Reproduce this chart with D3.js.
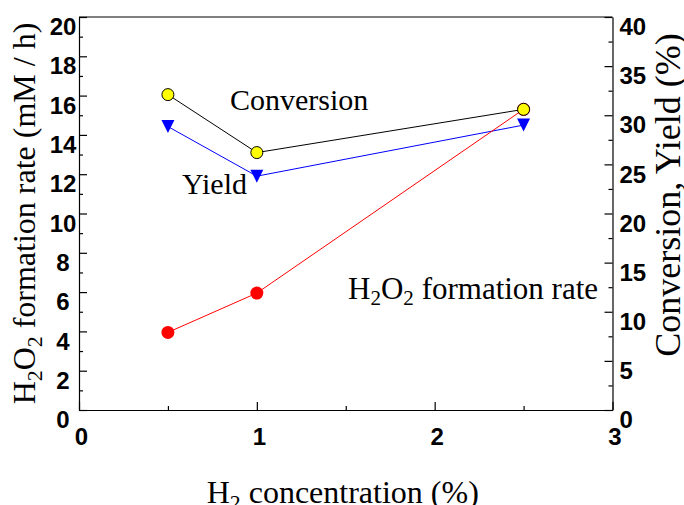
<!DOCTYPE html>
<html>
<head>
<meta charset="utf-8">
<script src="https://cdn.jsdelivr.net/npm/d3@7"></script>
<style>
  body { margin: 0; background: #fff; }
  svg { display: block; }
  .tick text { font-family: "Liberation Sans", Arial, sans-serif; font-weight: bold; font-size: 24px; fill: #000; }
  .tick line, .domain { stroke: #000; stroke-width: 1.2; }
  .serif { font-family: "Liberation Serif", "Times New Roman", serif; font-size: 30px; fill: #000; }
</style>
</head>
<body>
<div id="chart"></div>
<script>
// H2 concentration (%)
const h2Conc = [0.5, 1, 2.5];
// left axis: H2O2 formation rate (mM / h)
const h2o2Rate = [3.95, 5.95, 15.3];
// right axis: conversion and yield (%)
const conversion = [32.1, 26.2, 30.6];
const yieldPct = [28.85, 23.8, 29.0];

const xTicks = [0, 1, 2, 3];
const xMinor = [0.5, 1.5, 2.5];
const leftTicks = [0, 2, 4, 6, 8, 10, 12, 14, 16, 18, 20];
const leftMinor = [1, 3, 5, 7, 9, 11, 13, 15, 17, 19];
const rightTicks = [0, 5, 10, 15, 20, 25, 30, 35, 40];
const rightMinor = [2.5, 7.5, 12.5, 17.5, 22.5, 27.5, 32.5, 37.5];

const W = 684, H = 505;
const box = {left: 79, right: 612.5, top: 17, bottom: 410};

const svg = d3.select("#chart").append("svg")
  .attr("width", W)
  .attr("height", H);

const x = d3.scaleLinear().domain([0, 3]).range([box.left, box.right]);
const yL = d3.scaleLinear().domain([0, 20]).range([box.bottom, box.top]);
const yR = d3.scaleLinear().domain([0, 40]).range([box.bottom, box.top]);

// frame top line
svg.append("line")
  .attr("x1", box.left).attr("x2", box.right)
  .attr("y1", box.top).attr("y2", box.top)
  .attr("stroke", "#000").attr("stroke-width", 1.2);

// bottom axis
const gx = svg.append("g")
  .attr("transform", `translate(0,${box.bottom})`)
  .call(d3.axisBottom(x).tickValues(xTicks).tickFormat(d3.format("d")).tickSize(-8).tickSizeOuter(0));
gx.selectAll(".tick text").attr("y", 18).attr("dx", 2);
svg.append("g")
  .attr("transform", `translate(0,${box.bottom})`)
  .call(d3.axisBottom(x).tickValues(xMinor).tickFormat("").tickSize(-4).tickSizeOuter(0))
  .select(".domain").remove();

// left axis
const gl = svg.append("g")
  .attr("transform", `translate(${box.left},0)`)
  .call(d3.axisLeft(yL).tickValues(leftTicks).tickFormat(d3.format("d")).tickSize(-8).tickSizeOuter(0));
gl.selectAll(".tick text").attr("x", -16).attr("y", 10).attr("text-anchor", "middle");
svg.append("g")
  .attr("transform", `translate(${box.left},0)`)
  .call(d3.axisLeft(yL).tickValues(leftMinor).tickFormat("").tickSize(-4).tickSizeOuter(0))
  .select(".domain").remove();

// right axis
const gr = svg.append("g")
  .attr("transform", `translate(${box.right},0)`)
  .call(d3.axisRight(yR).tickValues(rightTicks).tickFormat(d3.format("d")).tickSize(-8).tickSizeOuter(0));
gr.selectAll(".tick text").attr("x", 7).attr("y", 10).attr("text-anchor", "start");
svg.append("g")
  .attr("transform", `translate(${box.right},0)`)
  .call(d3.axisRight(yR).tickValues(rightMinor).tickFormat("").tickSize(-4).tickSizeOuter(0))
  .select(".domain").remove();

// series
const lineL = d3.line().x((d, i) => x(h2Conc[i])).y(d => yL(d));
const lineR = d3.line().x((d, i) => x(h2Conc[i])).y(d => yR(d));

// yield (blue, down triangles)
svg.append("path").datum(yieldPct)
  .attr("d", lineR).attr("fill", "none").attr("stroke", "#0000ff").attr("stroke-width", 1);
svg.selectAll(".yld").data(yieldPct).join("path")
  .attr("class", "yld")
  .attr("transform", (d, i) => `translate(${x(h2Conc[i])},${yR(d)})`)
  .attr("d", "M-6.5,-6.5L6.5,-6.5L0,6.5Z")
  .attr("fill", "#0000ff");

// H2O2 formation rate (red circles)
svg.append("path").datum(h2o2Rate)
  .attr("d", lineL).attr("fill", "none").attr("stroke", "#ff0000").attr("stroke-width", 1);
svg.selectAll(".rate").data(h2o2Rate).join("circle")
  .attr("class", "rate")
  .attr("cx", (d, i) => x(h2Conc[i]))
  .attr("cy", d => yL(d))
  .attr("r", 6.5)
  .attr("fill", "#ff0000");

// conversion (black line, yellow circles)
svg.append("path").datum(conversion)
  .attr("d", lineR).attr("fill", "none").attr("stroke", "#000").attr("stroke-width", 1);
svg.selectAll(".conv").data(conversion).join("circle")
  .attr("class", "conv")
  .attr("cx", (d, i) => x(h2Conc[i]))
  .attr("cy", d => yR(d))
  .attr("r", 6)
  .attr("fill", "#ffff00")
  .attr("stroke", "#000")
  .attr("stroke-width", 1);

// helper for text with subscripts: parts = [[text, isSub], ...]
function richText(sel, parts) {
  parts.forEach(([t, sub], i) => {
    const ts = sel.append("tspan").text(t);
    if (sub) ts.attr("font-size", "0.68em").attr("dy", "0.3em");
    else if (i > 0 && parts[i - 1][1]) ts.attr("dy", "-0.2em");
  });
  return sel;
}

// series labels
svg.append("text").attr("class", "serif").attr("x", 230).attr("y", 110).text("Conversion");
svg.append("text").attr("class", "serif").attr("x", 182).attr("y", 194).text("Yield");
richText(svg.append("text").attr("class", "serif").style("font-size", "31px").attr("x", 348).attr("y", 299),
  [["H", false], ["2", true], ["O", false], ["2", true], [" formation rate", false]]);

// axis titles
richText(svg.append("text").attr("class", "serif").style("font-size", "32px")
  .attr("text-anchor", "middle")
  .attr("transform", `translate(35,${(box.top + box.bottom) / 2}) rotate(-90)`),
  [["H", false], ["2", true], ["O", false], ["2", true], [" formation rate (mM / h)", false]]);

svg.append("text").attr("class", "serif").style("font-size", "36px")
  .attr("text-anchor", "middle")
  .attr("transform", "translate(680,195) rotate(-90)")
  .text("Conversion, Yield (%)");

richText(svg.append("text").attr("class", "serif").style("font-size", "32px")
  .attr("text-anchor", "middle")
  .attr("x", (box.left + box.right) / 2 - 3).attr("y", 503),
  [["H", false], ["2", true], [" concentration (%)", false]]);
</script>
</body>
</html>
